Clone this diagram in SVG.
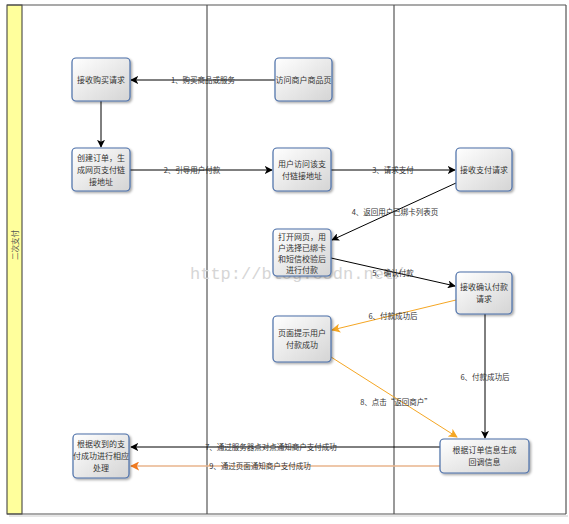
<svg xmlns="http://www.w3.org/2000/svg" width="569" height="524" viewBox="0 0 569 524">
<defs>
<linearGradient id="ng" x1="0" y1="0" x2="1" y2="1">
<stop offset="0" stop-color="#ffffff"/>
<stop offset="1" stop-color="#d4d4d4"/>
</linearGradient>
<filter id="sh" x="-20%" y="-20%" width="140%" height="140%">
<feDropShadow dx="1.5" dy="1.5" stdDeviation="1" flood-color="#000" flood-opacity="0.35"/>
</filter>
<marker id="ab" viewBox="0 0 10 10" refX="9" refY="5" markerWidth="8" markerHeight="8" markerUnits="userSpaceOnUse" orient="auto">
<path d="M0,0 L10,5 L0,10 L2.5,5 Z" fill="#000"/>
</marker>
<marker id="ao" viewBox="0 0 10 10" refX="9" refY="5" markerWidth="9" markerHeight="9" markerUnits="userSpaceOnUse" orient="auto">
<path d="M0,0 L10,5 L0,10 L2.5,5 Z" fill="#f5a623"/>
</marker>
<marker id="ar" viewBox="0 0 10 10" refX="9" refY="5" markerWidth="9" markerHeight="9" markerUnits="userSpaceOnUse" orient="auto">
<path d="M0,0 L10,5 L0,10 L2.5,5 Z" fill="#f07a20"/>
</marker>
</defs>
<style>
.node rect{fill:url(#ng);stroke:#4a6ea8;stroke-width:1.2;filter:url(#sh)}
.node text{font-family:"Noto Sans CJK SC","Liberation Serif",serif;font-size:8px;fill:#333;text-anchor:middle}
.lane{stroke:#555;stroke-width:1.2;fill:none}
.c{fill:none;stroke:#000;stroke-width:1;marker-end:url(#ab)}
.o{fill:none;stroke:#f5a623;stroke-width:1;marker-end:url(#ao)}
.p{fill:none;stroke:#e8b48c;stroke-width:1.3;marker-end:url(#ar)}
.lbl{font-family:"Noto Sans CJK SC","Liberation Serif",serif;font-size:7.5px;fill:#333;text-anchor:middle}
.wm{font-family:"Liberation Mono",monospace;font-size:17px;fill:#d6d6d6}
</style>
<rect x="0" y="0" width="569" height="524" fill="#fff"/>
<g id="frame">
<rect x="7" y="5" width="15" height="509" fill="#ffff9c" stroke="#333" stroke-width="1"/>
<line class="lane" x1="7" y1="5" x2="566" y2="5"/>
<line class="lane" x1="7" y1="514" x2="566" y2="514"/>
<line class="lane" x1="566" y1="5" x2="566" y2="514"/>
<line class="lane" x1="207" y1="5" x2="207" y2="514"/>
<line class="lane" x1="394" y1="5" x2="394" y2="514"/>
<line x1="9" y1="516" x2="568" y2="516" stroke="#ccc" stroke-width="1"/>
<text transform="translate(15.5,245) rotate(-90)" font-family="Noto Sans CJK SC, sans-serif" font-size="7.5" fill="#555" text-anchor="middle" dominant-baseline="middle">二次支付</text>
</g>
<text class="wm" x="190" y="279">http://blog.csdn.net/</text>
<g id="connectors">
<line class="c" x1="275" y1="80" x2="131" y2="80"/>
<line class="c" x1="101" y1="101" x2="101" y2="147"/>
<line class="c" x1="130" y1="170" x2="272" y2="170"/>
<line class="c" x1="331" y1="170" x2="455" y2="170"/>
<line class="c" x1="456" y1="183" x2="332" y2="240"/>
<line class="c" x1="331" y1="258" x2="455" y2="286"/>
<line class="o" x1="456" y1="300" x2="332" y2="330"/>
<line class="c" x1="485" y1="314" x2="485" y2="438"/>
<line class="o" x1="331" y1="357" x2="457" y2="437"/>
<line class="c" x1="440" y1="447" x2="131" y2="447"/>
<line class="p" x1="440" y1="466" x2="131" y2="466"/>
<text class="lbl" x="203" y="83">1、购买商品或服务</text>
<text class="lbl" x="192" y="173">2、引导用户付款</text>
<text class="lbl" x="393" y="173">3、请求支付</text>
<text class="lbl" x="395" y="215">4、返回用户已绑卡列表页</text>
<text class="lbl" x="393" y="276">5、确认付款</text>
<text class="lbl" x="393" y="319">6、付款成功后</text>
<text class="lbl" x="485" y="380">6、付款成功后</text>
<text class="lbl" x="396" y="405">8、点击“返回商户”</text>
<text class="lbl" x="271" y="450">7、通过服务器点对点通知商户支付成功</text>
<text class="lbl" x="260" y="469">9、通过页面通知商户支付成功</text>
</g>
<g id="n1" class="node"><rect x="72" y="58" width="58" height="43" rx="4"/><text x="101" y="82.5">接收购买请求</text></g>
<g id="n2" class="node"><rect x="275" y="58" width="57" height="43" rx="4"/><text x="303.5" y="82.5">访问商户商品页</text></g>
<g id="n3" class="node"><rect x="72" y="148" width="58" height="43" rx="4"/><text x="101" y="161">创建订单，生</text><text x="101" y="173">成网页支付链</text><text x="101" y="185">接地址</text></g>
<g id="n4" class="node"><rect x="273" y="148" width="58" height="43" rx="4"/><text x="302" y="167">用户访问该支</text><text x="302" y="179">付链接地址</text></g>
<g id="n5" class="node"><rect x="456" y="148" width="56" height="43" rx="4"/><text x="484" y="172.5">接收支付请求</text></g>
<g id="n6" class="node"><rect x="273" y="229" width="58" height="47" rx="4"/><text x="302" y="240">打开网页，用</text><text x="302" y="251">户选择已绑卡</text><text x="302" y="262">和短信校验后</text><text x="302" y="273">进行付款</text></g>
<g id="n7" class="node"><rect x="456" y="272" width="56" height="42" rx="4"/><text x="484" y="290">接收确认付款</text><text x="484" y="302">请求</text></g>
<g id="n8" class="node"><rect x="273" y="316" width="58" height="46" rx="4"/><text x="302" y="336">页面提示用户</text><text x="302" y="348">付款成功</text></g>
<g id="n9" class="node"><rect x="440" y="439" width="89" height="34" rx="4"/><text x="484.5" y="453">根据订单信息生成</text><text x="484.5" y="465">回调信息</text></g>
<g id="n10" class="node"><rect x="73" y="434" width="56" height="44" rx="4"/><text x="101" y="447">根据收到的支</text><text x="101" y="459">付成功进行相应</text><text x="101" y="471">处理</text></g>
</svg>
